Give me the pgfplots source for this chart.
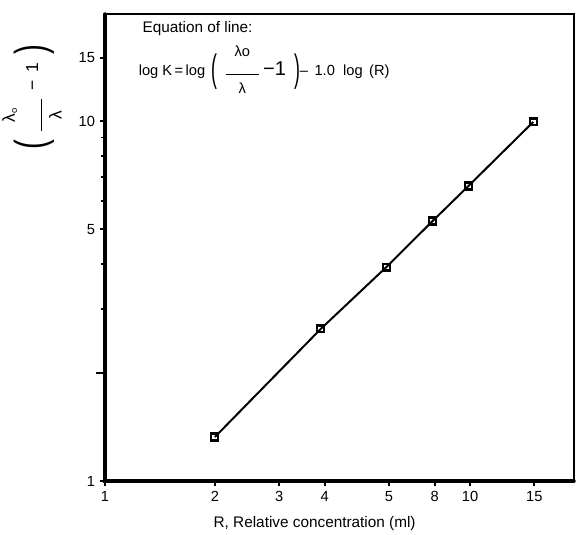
\documentclass[border=0pt]{standalone}
\usepackage{fontspec}
\setmainfont{Liberation Sans}
\usepackage{graphicx}
\usepackage{pgfplots}
\pgfplotsset{compat=1.18}
\newcommand{\bigfrac}[5]{\vcenter{\hbox{\begin{tabular}{@{}c@{}}#1\\[#4]\rule{#3}{0.7pt}\\[#5]#2\end{tabular}}}}
\newcommand{\tallparen}[3]{\vcenter{\hbox{\scalebox{#3}[#2]{#1}}}}
\begin{document}
\begin{tikzpicture}
\begin{axis}[
  scale only axis, width=351.75pt, height=350.25pt,
  at={(0,0)}, anchor=south west,
  xmode=log, ymode=log,
  xmin=1, xmax=19.27, ymin=1, ymax=19.83,
  clip=false,
  axis line style={draw=none},
  xtick={1,2,3,4,6.0,8,10,15},
  xticklabels={1,2,3,\raisebox{-4pt}{4},5,8,10,15},
  minor xtick={},
  ytick={1,5,10,15},
  yticklabels={1,5,10,15},
  minor ytick={3,4,6,7,8,9},
  extra y ticks={2}, extra y tick labels={},
  extra y tick style={major tick length=7pt},
  xtick pos=left, ytick pos=left,
  tick align=outside,
  major tick length=4pt, minor tick length=3pt,
  every tick/.style={line width=1.4pt, black},
  /pgf/number format/assume math mode=true,
  tick label style={font=\fontsize{11}{13}\selectfont},
  xlabel={R, Relative concentration (ml)},
  every axis x label/.style={at={(axis description cs:0.447,0)}, anchor=north, yshift=-23pt, font=\fontsize{11.5}{13}\selectfont},
]
\addplot[line width=1.5pt, mark=square, mark size=2.6pt, mark options={fill=white, line width=1.6pt, solid}]
  coordinates {(2,1.325) (3.9,2.645) (5.9,3.93) (7.9,5.275) (9.9,6.60) (14.9,9.94)};
\draw[line width=2.6pt, line cap=round] (rel axis cs:0,1) -- (rel axis cs:0,0) -- (rel axis cs:1,0);
\draw[line width=2.2pt] (rel axis cs:0,1) -- (rel axis cs:0.93,1);
\draw[line width=0.9pt] (rel axis cs:0.93,1) -- (rel axis cs:1,1) -- (rel axis cs:1,0);
\node[anchor=base west, font=\fontsize{11.5}{13}\selectfont] at (axis description cs:0.07,0.961) {Equation of line:};
\node[anchor=west, font=\fontsize{11}{13}\selectfont] at (axis description cs:0.062,0.877)
  {log K\,=\,log\, $\tallparen{(}{2.6}{1.2}\;\;\bigfrac{λo}{λ}{25pt}{1pt}{1pt}\;\hbox{\fontsize{15}{16}\selectfont −1}\;\;\tallparen{)}{2.6}{1.2}$\hbox{–\,\ 1.0\ \ log\ \,(R)}};
\node[rotate=90, font=\fontsize{13}{15}\selectfont] at (axis description cs:-0.151,0.822)
  {$\tallparen{(}{2.5}{1.7}\;\;\bigfrac{λ$_{\hbox{\scriptsize o}}$}{λ}{24pt}{5pt}{0pt}\;\;\hbox{−\;\,1}\;\;\tallparen{)}{2.5}{1.7}$};
\end{axis}
\pgfresetboundingbox
\path (-78.75pt,-40.5pt) rectangle (353.25pt,360.75pt);
\end{tikzpicture}
\end{document}
